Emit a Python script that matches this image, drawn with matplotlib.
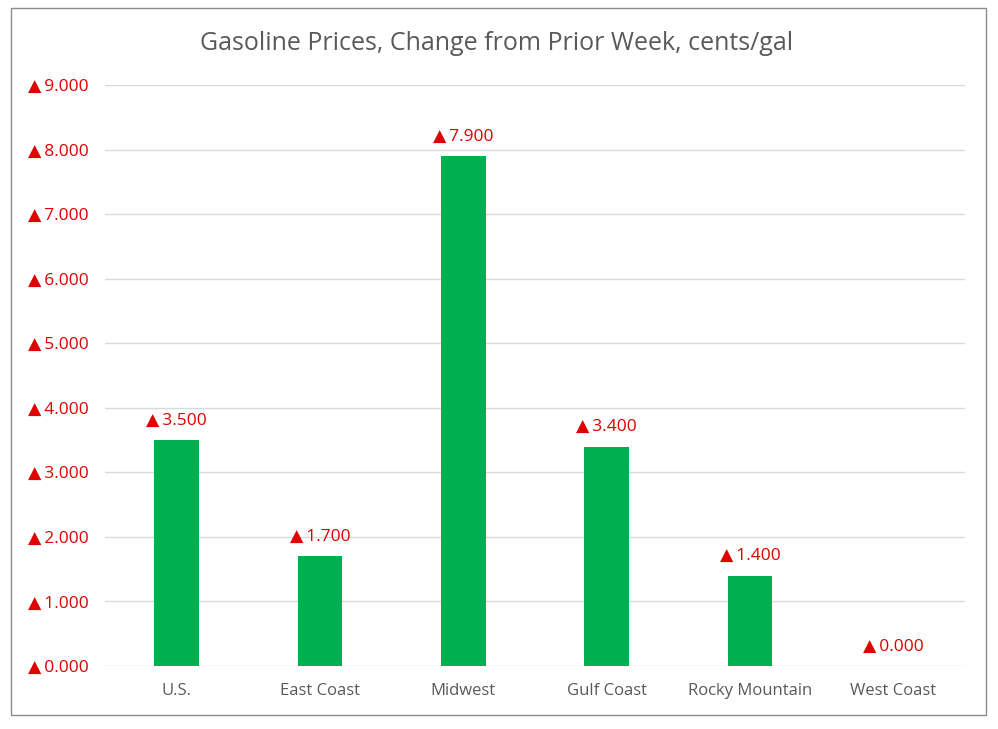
import matplotlib.pyplot as plt
import matplotlib.ticker as mtick
from matplotlib.patches import Rectangle

regions = ['U.S.', 'East Coast', 'Midwest', 'Gulf Coast', 'Rocky Mountain', 'West Coast']
change = [3.5, 1.7, 7.9, 3.4, 1.4, 0.0]
y_ticks = [0, 1, 2, 3, 4, 5, 6, 7, 8, 9]

plt.rcParams['font.family'] = ['Open Sans', 'DejaVu Sans']

red = '#E00000'
fig = plt.figure(figsize=(9.98, 7.29), dpi=100)
ax = fig.add_axes([105 / 998, 1 - 666 / 729, 860 / 998, 581 / 729])

x = range(len(regions))
pps = ax.bar(x, change, width=0.31, color='#00B050', zorder=3)

for p, v in zip(pps, change):
    ax.annotate('▲\u2009{:.3f}'.format(v), (p.get_x() + p.get_width() / 2, p.get_height()),
                xytext=(0, 14), textcoords='offset points', ha='center', va='center',
                color=red, fontsize=12.5)

ax.set_xlim(-0.5, len(regions) - 0.5)
ax.set_ylim(0, 9)
ax.set_yticks(y_ticks)
ax.yaxis.set_major_formatter(mtick.FuncFormatter(lambda v, pos: '▲\u2009{:.3f}'.format(v)))
ax.set_xticks(list(x))
ax.set_xticklabels(regions)
ax.tick_params(axis='y', length=0, pad=12, labelcolor=red, labelsize=12.5)
ax.tick_params(axis='x', length=0, pad=12, labelcolor='#595959', labelsize=12)
ax.grid(axis='y', color='#D9D9D9', lw=1, zorder=0)
for s in ax.spines.values():
    s.set_visible(False)

fig.text(497 / 998, 1 - 44 / 729, 'Gasoline Prices, Change from Prior Week, cents/gal',
         ha='center', va='center', fontsize=18, color='#595959')

fig.patches.append(Rectangle((11 / 998, 1 - 715 / 729), 975 / 998, 707 / 729,
                             transform=fig.transFigure, fill=False, edgecolor='#8C8C8C', lw=1))

plt.savefig('out.png', dpi=100, facecolor='w')
plt.close()
